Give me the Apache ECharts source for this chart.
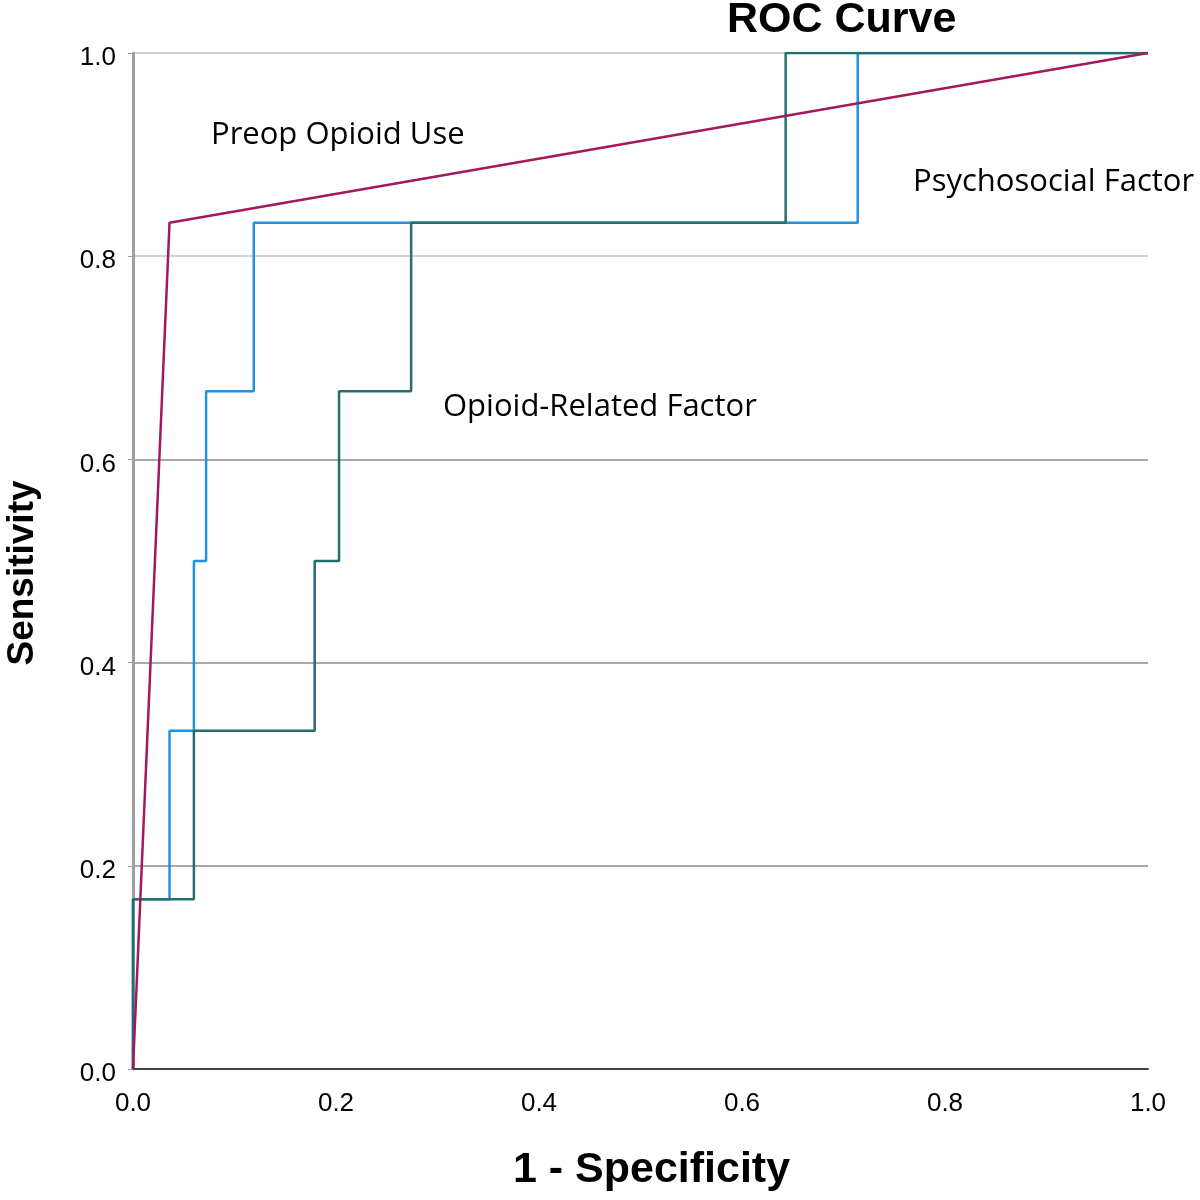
<!DOCTYPE html>
<html><head><meta charset="utf-8">
<script src="https://cdn.jsdelivr.net/npm/echarts@6/dist/echarts.min.js"></script>
<style>html,body{margin:0;padding:0;background:#fff}#c{width:1200px;height:1200px}</style>
</head><body><div id="c"></div>
<script>
// ROC points: [1 - Specificity, Sensitivity]
const preopOpioidUse = [[0,0],[0.036,0.833],[1,1]];
const opioidRelated = [[0,0],[0,0.167],[0.036,0.167],[0.036,0.333],[0.06,0.333],[0.06,0.5],[0.072,0.5],[0.072,0.667],[0.119,0.667],[0.119,0.833],[0.714,0.833],[0.714,1],[1,1]];
const psychosocial = [[0,0],[0,0.167],[0.06,0.167],[0.06,0.333],[0.179,0.333],[0.179,0.5],[0.203,0.5],[0.203,0.667],[0.274,0.667],[0.274,0.833],[0.643,0.833],[0.643,1],[1,1]];
const curveLabels = ['Preop Opioid Use','Psychosocial Factor','Opioid-Related Factor'];

const chart = echarts.init(document.getElementById('c'));
const annFont = '"Open Sans","Noto Sans",sans-serif';
chart.setOption({
  animation:false,
  backgroundColor:'#fff',
  title:{text:'ROC Curve',left:722,top:-6,textStyle:{fontFamily:'Liberation Sans, Arial',fontWeight:'bold',fontSize:43,color:'#000'}},
  grid:{left:133,right:52,top:53,bottom:131,outerBoundsMode:'none',containLabel:false},
  xAxis:{type:'value',min:0,max:1,interval:0.2,
    name:'1 - Specificity',nameLocation:'middle',nameGap:80,
    nameTextStyle:{fontFamily:'Liberation Sans, Arial',fontWeight:'bold',fontSize:43,color:'#000',padding:[0,0,0,22]},
    axisLine:{lineStyle:{color:'#444',width:2}},axisTick:{show:false},
    axisLabel:{fontFamily:'Liberation Sans, Arial',fontSize:26,color:'#000',margin:22,formatter:v=>v.toFixed(1)},
    splitLine:{show:false}},
  yAxis:{type:'value',min:0,max:1,interval:0.2,
    name:'Sensitivity',nameLocation:'middle',nameGap:92,
    nameTextStyle:{fontFamily:'Liberation Sans, Arial',fontWeight:'bold',fontSize:37,color:'#000',padding:[0,24,0,0]},
    axisLine:{show:true,lineStyle:{color:'#a0a0a0',width:3}},
    axisTick:{show:true,length:5,lineStyle:{color:'#a0a0a0'}},
    axisLabel:{fontFamily:'Liberation Sans, Arial',fontSize:26,color:'#000',margin:17,verticalAlign:'top',lineHeight:10,formatter:v=>v.toFixed(1)},
    splitLine:{lineStyle:{color:['#a0a0a0','#a8a8a8','#a8a8a8','#a8a8a8','#d2d2d2','#cfcfcf'],width:2}}},
  series:[
    {name:curveLabels[2],type:'line',data:opioidRelated,symbol:'none',lineStyle:{color:'#2092e0',width:2.5},z:2},
    {name:curveLabels[1],type:'line',data:psychosocial,symbol:'none',lineStyle:{color:'#226f70',width:2.5},z:3},
    {name:curveLabels[0],type:'line',data:preopOpioidUse,symbol:'none',lineStyle:{color:'#a3195b',width:2.5},z:4}
  ],
  graphic:[
    {type:'text',left:211,top:120,style:{text:curveLabels[0],font:'31px '+annFont,fill:'#000'}},
    {type:'text',left:913,top:167,style:{text:curveLabels[1],font:'31px '+annFont,fill:'#000'}},
    {type:'text',left:443,top:392,style:{text:curveLabels[2],font:'31px '+annFont,fill:'#000'}}
  ]
});
</script></body></html>
